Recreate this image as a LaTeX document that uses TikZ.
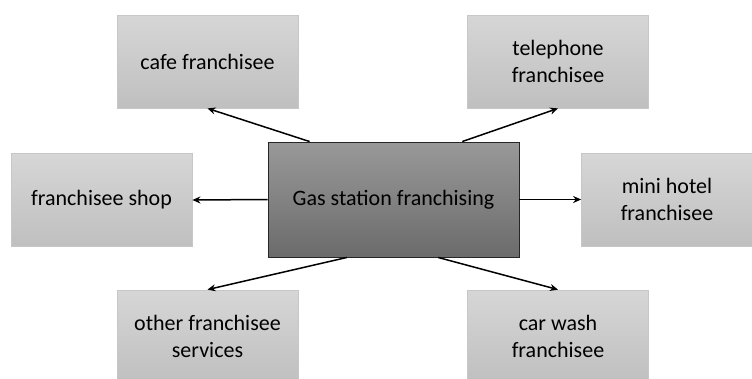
\documentclass[tikz,border=0pt]{standalone}
\usepackage{fontspec}
\setmainfont{Carlito}
\usetikzlibrary{arrows.meta,calc}
\begin{document}
\begin{tikzpicture}[x=1pt,y=-1pt,
  leaf/.style={rectangle, draw=black!22, line width=0.8pt,
    top color=black!16, bottom color=black!25,
    minimum width=181pt, minimum height=93pt, inner sep=2pt,
    align=center, font=\fontsize{22}{27}\selectfont, text=black},
  hub/.style={rectangle, draw=black!85, line width=0.9pt,
    top color=black!40, bottom color=black!58,
    minimum width=251pt, minimum height=115pt,
    align=center, font=\fontsize{22}{27}\selectfont, text=black},
  link/.style={line width=1.5pt, -{Stealth[length=8pt,width=7pt]}}]
  \useasboundingbox (0,0) rectangle (752,378);
  \begin{scope}
  \clip (0,0) rectangle (752,378);
  \node[hub]  (hub)   at (393.5,199.5) {Gas station franchising};
  \node[leaf] (cafe)  at (207.5,61.5)  {cafe franchisee};
  \node[leaf] (phone) at (558,61.5)    {telephone\\franchisee};
  \node[leaf] (shop)  at (101.5,200)   {franchisee shop};
  \node[leaf, minimum width=171pt] (hotel) at (667,199.5) {mini hotel\\franchisee};
  \node[leaf] (other) at (207.5,336.5) {other franchisee\\services};
  \node[leaf] (wash)  at (558,336.5)   {car wash\\franchisee};
  \end{scope}
  \draw[link] ($(hub.north west)!0.167!(hub.north east)$) -- (cafe.south);
  \draw[link] ($(hub.north west)!0.773!(hub.north east)$) -- (phone.south);
  \draw[link] (hub.west) -- (shop.east);
  \draw[link] (hub.east) -- (hotel.west);
  \draw[link] ($(hub.south west)!0.315!(hub.south east)$) -- (other.north);
  \draw[link] ($(hub.south west)!0.677!(hub.south east)$) -- (wash.north);
\end{tikzpicture}
\end{document}
